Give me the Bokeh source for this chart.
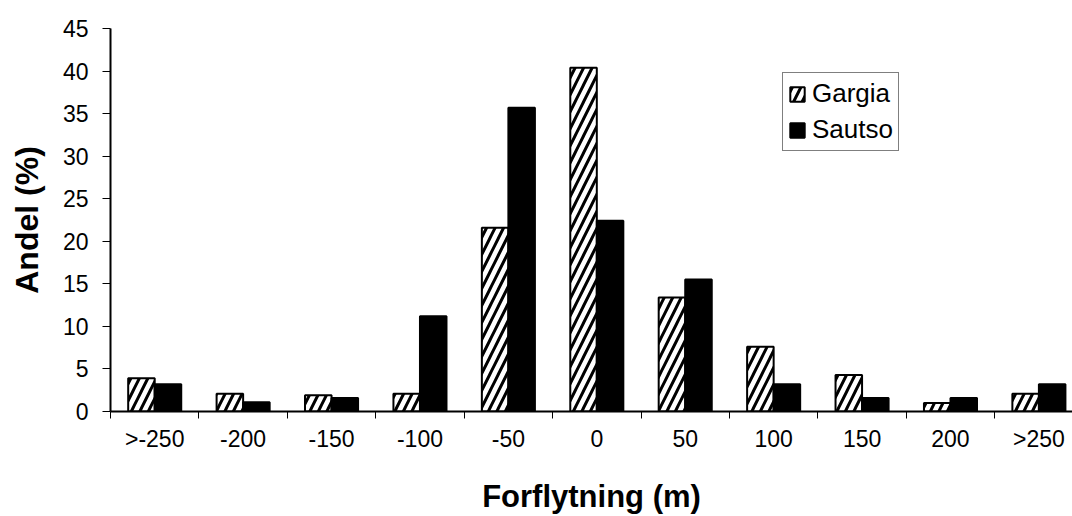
from bokeh.plotting import figure
from bokeh.models import (ColumnDataSource, FixedTicker, Legend, LegendItem,
                          LinearAxis, Range1d)
from bokeh.embed import file_html
from bokeh.resources import INLINE

# Displacement classes and share (%) per herd
categories = [">-250", "-200", "-150", "-100", "-50", "0", "50", "100", "150", "200", ">250"]
gargia = [3.9, 2.1, 1.9, 2.1, 21.6, 40.4, 13.4, 7.6, 4.3, 1.0, 2.1]
sautso = [3.2, 1.1, 1.6, 11.2, 35.7, 22.4, 15.5, 3.2, 1.6, 1.6, 3.2]
y_ticks = [0, 5, 10, 15, 20, 25, 30, 35, 40, 45]

FONT = "Liberation Sans"
idx = list(range(len(categories)))
bar_w = 0.3

src = ColumnDataSource(dict(
    xg=[i - bar_w / 2 for i in idx],
    xs=[i + bar_w / 2 for i in idx],
    gargia=gargia,
    sautso=sautso,
))

p = figure(width=1072, height=516, output_backend="svg", toolbar_location=None,
           x_range=Range1d(-0.5, 10.38), y_range=Range1d(0, 45),
           min_border_left=110, min_border_right=0, min_border_top=28,
           min_border_bottom=104, x_axis_type=None, y_axis_type=None)
p.outline_line_color = None
p.background_fill_color = "white"
p.border_fill_color = "white"
p.xgrid.visible = False
p.ygrid.visible = False

rg = p.vbar(x="xg", top="gargia", width=bar_w, source=src,
            fill_color="white", line_color="black", line_width=2,
            hatch_pattern="/", hatch_color="black", hatch_scale=17, hatch_weight=3)
rs = p.vbar(x="xs", top="sautso", width=bar_w, source=src,
            fill_color="black", line_color="black", line_width=2)

# Category axis: labels at class centres, tick marks at class boundaries
xaxis = LinearAxis(ticker=FixedTicker(ticks=idx, minor_ticks=[i - 0.5 for i in range(len(categories) + 1)]))
xaxis.major_label_overrides = {i: c for i, c in zip(idx, categories)}
xaxis.major_tick_out = 0
xaxis.major_tick_in = 0
xaxis.minor_tick_out = 7
xaxis.minor_tick_in = 0
xaxis.minor_tick_line_color = "black"
xaxis.minor_tick_line_width = 1
xaxis.axis_line_color = "black"
xaxis.axis_line_width = 2
xaxis.major_label_standoff = 7
xaxis.major_label_text_font = FONT
xaxis.major_label_text_font_size = "23px"
xaxis.major_label_text_color = "black"
xaxis.axis_label = "Forflytning (m)"
xaxis.axis_label_text_font = FONT
xaxis.axis_label_text_font_style = "bold"
xaxis.axis_label_text_font_size = "31px"
xaxis.axis_label_text_color = "black"
xaxis.axis_label_standoff = 24
p.add_layout(xaxis, "below")

yaxis = LinearAxis(ticker=FixedTicker(ticks=y_ticks, minor_ticks=[]))
yaxis.major_tick_out = 8
yaxis.major_tick_in = 0
yaxis.major_tick_line_color = "black"
yaxis.major_tick_line_width = 1
yaxis.axis_line_color = "black"
yaxis.axis_line_width = 2
yaxis.major_label_standoff = 14
yaxis.major_label_text_font = FONT
yaxis.major_label_text_font_size = "23px"
yaxis.major_label_text_color = "black"
yaxis.axis_label = "Andel (%)"
yaxis.axis_label_text_font = FONT
yaxis.axis_label_text_font_style = "bold"
yaxis.axis_label_text_font_size = "32px"
yaxis.axis_label_text_color = "black"
yaxis.axis_label_standoff = 15
p.add_layout(yaxis, "left")

legend = Legend(items=[LegendItem(label="Gargia", renderers=[rg]),
                       LegendItem(label="Sautso", renderers=[rs])],
                location=(672, 260))
legend.label_text_font = FONT
legend.label_text_font_size = "26px"
legend.label_text_color = "black"
legend.glyph_width = 18
legend.glyph_height = 18
legend.label_standoff = 6
legend.spacing = 5
legend.padding = 5
legend.margin = 0
legend.border_line_color = "black"
legend.border_line_width = 1
legend.background_fill_color = "white"
p.add_layout(legend, "center")

open("out.html", "w").write(file_html(p, INLINE))
